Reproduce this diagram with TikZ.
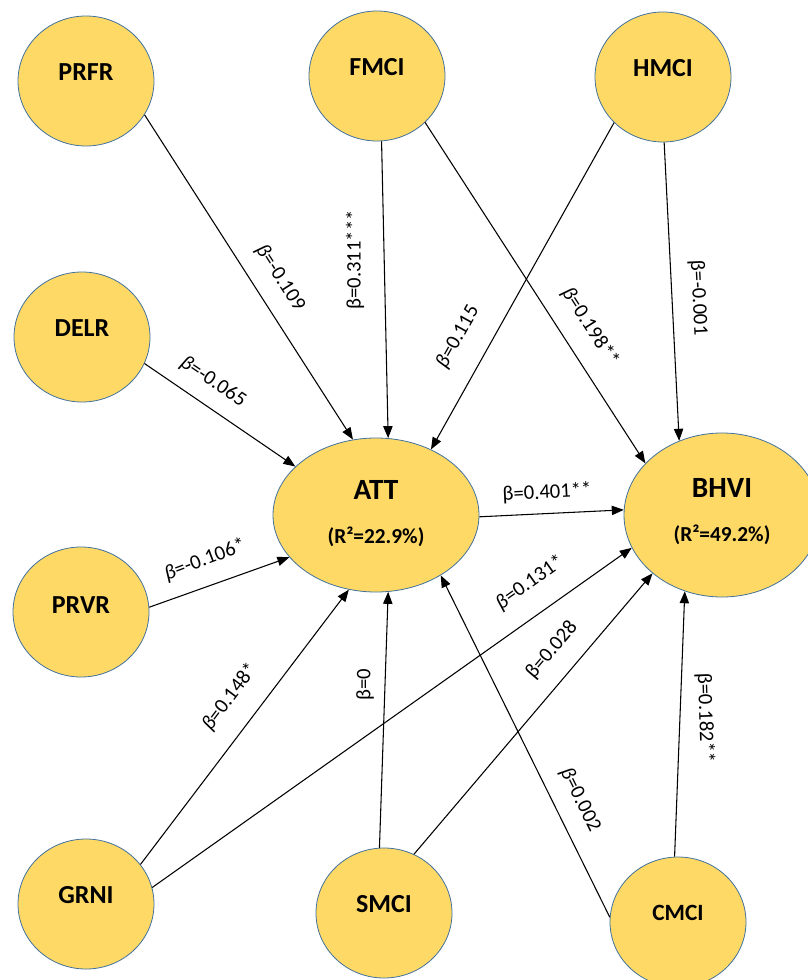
\documentclass[tikz,border=0pt]{standalone}
\usepackage{fontspec}
\setmainfont{Carlito}
\usetikzlibrary{shapes.geometric,arrows.meta}
\definecolor{latfill}{RGB}{255,217,102}
\definecolor{latline}{RGB}{65,113,156}
\newcommand{\ib}{\textit{β}}
\newcommand{\ub}{β}

\begin{document}
\begin{tikzpicture}[x=0.75pt,y=-0.75pt,
        latent/.style={ellipse,draw=latline,line width=0.6pt,fill=latfill,inner sep=0pt,
            minimum width=102pt,minimum height=97.5pt},
        tag/.style={font=\bfseries\fontsize{19.5}{20}\selectfont,yshift=6.5pt},
        big/.style={font=\bfseries\fontsize{22}{22}\selectfont},
        rsq/.style={font=\bfseries\fontsize{16}{16}\selectfont},
        coef/.style={font=\fontsize{15.5}{16}\selectfont,inner sep=0pt},
        link/.style={-{Triangle[length=9pt,width=7pt]},line width=0.8pt}]
        \useasboundingbox (0,0) rectangle (807,980);

        \node[latent,label={[tag]center:PRFR}] (prfr) at (86,81) {};
        \node[latent,label={[tag]center:FMCI}] (fmci) at (377,76) {};
        \node[latent,label={[tag]center:HMCI}] (hmci) at (663,77) {};
        \node[latent,label={[tag]center:DELR}] (delr) at (82,337) {};
        \node[latent,label={[tag,yshift=-1.5pt]center:PRVR}] (prvr) at (81,612) {};
        \node[latent,label={[tag]center:GRNI}] (grni) at (86,904) {};
        \node[latent,label={[tag]center:SMCI}] (smci) at (384,913) {};
        \node[latent,label={[tag,font=\bfseries\fontsize{17.5}{18}\selectfont]center:CMCI}] (cmci) at (678,922) {};
        \node[latent,minimum width=154.5pt,minimum height=115.5pt,
            label={[big,yshift=18.5pt]center:ATT},
            label={[rsq,yshift=-16pt]center:(R²=22.9\%)}] (att) at (376,515) {};
        \node[latent,minimum width=147pt,minimum height=123pt,
            label={[big,yshift=20pt]center:BHVI},
            label={[rsq,yshift=-15pt]center:(R²=49.2\%)}] (bhvi) at (722,515) {};

        \draw[link] (prfr.-30) -- (att.107);
        \draw[link] (delr.-23) -- (att.149);
        \draw[link] (fmci.-86) -- (att.81);
        \draw[link] (hmci.-137) -- (att.50);
        \draw[link] (fmci.-44) -- (bhvi.146);
        \draw[link] (hmci.-89) -- (bhvi.120);
        \draw[link] (att.-1) -- (bhvi.177);
        \draw[link] (prvr.4) -- (att.-154);
        \draw[link] (grni.36) -- (att.-110);
        \draw[link] (grni.14) -- (bhvi.-160);
        \draw[link] (smci.94) -- (att.-81);
        \draw[link] (smci.63) -- (bhvi.-140);
        \draw[link] (cmci.176) -- (att.-43);
        \draw[link] (cmci.93) -- (bhvi.-116);

        \node[coef,rotate=-57.4] (c1) at (280,278) {\ib=-0.109};
        \node[coef,rotate=-34] (c2) at (213,382) {\ib=-0.065};
        \node[coef,rotate=90] (c3) at (355,260) {\ub=0.311***};
        \node[coef,rotate=60.8] (c4) at (458,337) {\ib=0.115};
        \node[coef,rotate=-57.2] (c5) at (590,327) {\ib=0.198**};
        \node[coef,rotate=-87.3] (c6) at (698,298) {\ub=-0.001};
        \node[coef,rotate=2.8] (c7) at (547,493) {\ub=0.401**};
        \node[coef,rotate=20.5] (c8) at (205,560) {\ib=-0.106*};
        \node[coef,rotate=53] (c9) at (230,697) {\ib=0.148*};
        \node[coef,rotate=35.3] (c10) at (530,583) {\ib=0.131*};
        \node[coef,rotate=90] (c11) at (365,685) {\ub=0};
        \node[coef,rotate=49.8] (c12) at (552,650) {\ub=0.028};
        \node[coef,rotate=-63.6] (c13) at (580,800) {\ib=0.002};
        \node[coef,rotate=-88] (c14) at (705,718) {\ub=0.182**};
    \end{tikzpicture}
\end{document}
